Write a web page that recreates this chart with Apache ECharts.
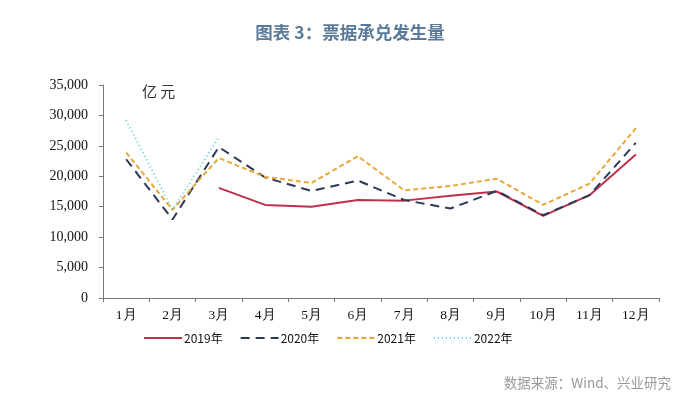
<!DOCTYPE html>
<html><head><meta charset="utf-8">
<script src="https://cdn.jsdelivr.net/npm/echarts@6/dist/echarts.min.js"></script>
<style>html,body{margin:0;padding:0;background:#fff}#c{width:700px;height:418px}</style>
</head><body><div id="c"></div>
<script>
var categories = ['1月','2月','3月','4月','5月','6月','7月','8月','9月','10月','11月','12月'];
var s2019 = [null, null, 18100, 15300, 15000, 16100, 16000, 16800, 17500, 13500, 16900, 23600];
var s2020 = [22800, 12900, 24800, 19800, 17600, 19300, 16100, 14700, 17600, 13600, 16900, 25500];
var s2021 = [23900, 14500, 23000, 19900, 18900, 23300, 17700, 18400, 19600, 15300, 18800, 27900];
var s2022 = [29200, 14500, 26400, null, null, null, null, null, null, null, null, null];
var seriesNames = ['2019年','2020年','2021年','2022年'];
var yTicks = {min: 0, max: 35000, interval: 5000};

var chart = echarts.init(document.getElementById('c'));
var serif = '"Liberation Serif","DejaVu Serif",serif';
function line(name, data, color, width, type) {
  return {name: name, type: 'line', data: data, symbol: 'none', connectNulls: false,
    lineStyle: {color: color, width: width, type: type}, itemStyle: {color: color}};
}
chart.setOption({
  animation: false,
  title: [{text: '图表 3：票据承兑发生量', left: 'center', top: 19,
    textStyle: {fontFamily: '"Noto Sans CJK SC"', fontSize: 17.5, fontWeight: 'bold', color: '#5a7a9a'}},
    {text: '数据来源：Wind、兴业研究', right: 24, top: 371,
    textStyle: {fontFamily: '"Noto Sans CJK SC"', fontSize: 13.5, fontWeight: 'normal', color: '#999'}},
    {text: '亿 元', left: 137, top: 79,
    textStyle: {fontFamily: '"Noto Sans CJK SC"', fontSize: 15, fontWeight: 'normal', color: '#333'}}],
  grid: {left: 103, right: 41, top: 85, bottom: 120},
  legend: {top: 327, left: 138, itemWidth: 38, itemHeight: 10, itemGap: 17,
    itemStyle: {opacity: 0},
    textStyle: {fontFamily: '"Noto Sans CJK SC"', fontSize: 12, color: '#111', padding: [0, 0, 0, -3]},
    data: seriesNames},
  xAxis: {type: 'category', data: categories, boundaryGap: true,
    axisLine: {lineStyle: {color: '#777'}},
    axisTick: {show: true, length: 4, lineStyle: {color: '#777'}},
    axisLabel: {fontFamily: serif, fontSize: 13.5, color: '#111', margin: 10}},
  yAxis: {type: 'value', min: yTicks.min, max: yTicks.max, interval: yTicks.interval,
    axisLine: {show: true, lineStyle: {color: '#777'}},
    axisTick: {show: true, length: 4, lineStyle: {color: '#777'}},
    splitLine: {show: false},
    axisLabel: {fontFamily: serif, fontSize: 14, color: '#111', margin: 15,
      formatter: function (v) { return v.toString().replace(/\B(?=(\d{3})+(?!\d))/g, ','); }}},
  series: [
    line(seriesNames[0], s2019, '#c0304a', 2, 'solid'),
    line(seriesNames[1], s2020, '#2c3a55', 2, [9, 6]),
    line(seriesNames[2], s2021, '#e8a838', 2, [5, 3]),
    line(seriesNames[3], s2022, '#5fd3d6', 2, [1, 3])
  ]
});
</script></body></html>
